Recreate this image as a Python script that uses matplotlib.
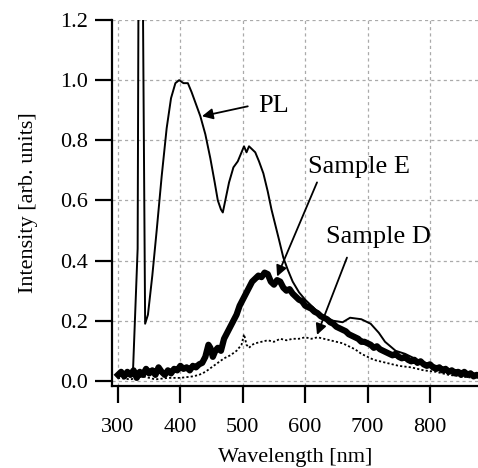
import numpy as np
import matplotlib
matplotlib.use("Agg")
from matplotlib import pyplot as plt

plt.rcParams['font.family'] = ['Liberation Serif', 'DejaVu Serif']

# PL spectrum (thin line)
pl_wl = [300, 310, 318, 324, 331.5, 333, 339.5, 343.5, 348, 355, 362, 370, 378, 385, 392, 398, 405,
         412, 418, 425, 432, 440, 448, 455, 460, 465, 468, 472, 478, 485, 492, 498, 502,
         506, 510, 515, 520, 526, 533, 540, 546, 552, 558, 565, 572, 580, 590, 600, 615,
         630, 645, 660, 672, 690, 705, 718, 728, 745, 760, 780, 800, 830, 860, 878]
pl_int = [0.02, 0.02, 0.02, 0.03, 0.44, 1.4, 1.4, 0.19, 0.22, 0.35, 0.50, 0.68, 0.84, 0.94, 0.99, 1.0, 0.99,
          0.99, 0.96, 0.92, 0.88, 0.82, 0.74, 0.66, 0.60, 0.57, 0.56, 0.60, 0.66, 0.71, 0.73, 0.76, 0.78,
          0.76, 0.78, 0.77, 0.76, 0.73, 0.69, 0.63, 0.57, 0.52, 0.47, 0.41, 0.37, 0.33, 0.295, 0.27, 0.24,
          0.215, 0.20, 0.195, 0.21, 0.205, 0.19, 0.16, 0.13, 0.10, 0.09, 0.07, 0.055, 0.04, 0.03, 0.02]

# Sample E (thick line)
e_wl = [300, 305, 310, 315, 320, 325, 330, 335, 340, 345, 350, 355, 360, 365, 370, 375,
        380, 385, 390, 395, 400, 405, 410, 415, 420, 425, 430, 435, 440, 445, 448, 452,
        456, 460, 465, 470, 475, 480, 485, 490, 495, 500, 505, 510, 515, 520, 525, 530,
        535, 540, 545, 550, 555, 560, 565, 570, 575, 580, 585, 590, 595, 600, 605, 610,
        615, 620, 625, 630, 635, 640, 645, 650, 655, 660, 665, 670, 675, 680, 685, 690,
        695, 700, 705, 710, 715, 720, 725, 730, 735, 740, 745, 750, 755, 760, 765, 770,
        775, 780, 785, 790, 795, 800, 805, 810, 815, 820, 825, 830, 835, 840, 845, 850,
        855, 860, 865, 870, 875, 880]
e_int = [0.02, 0.03, 0.015, 0.03, 0.02, 0.035, 0.01, 0.03, 0.02, 0.04, 0.025, 0.035, 0.02, 0.045, 0.03, 0.02,
         0.035, 0.025, 0.04, 0.035, 0.05, 0.04, 0.045, 0.035, 0.05, 0.045, 0.055, 0.06, 0.08, 0.12, 0.11, 0.08,
         0.10, 0.11, 0.10, 0.14, 0.16, 0.18, 0.20, 0.22, 0.25, 0.27, 0.29, 0.31, 0.33, 0.34, 0.35, 0.345,
         0.36, 0.355, 0.33, 0.32, 0.335, 0.33, 0.31, 0.30, 0.305, 0.29, 0.28, 0.27, 0.265, 0.25, 0.245, 0.24,
         0.23, 0.225, 0.215, 0.21, 0.205, 0.195, 0.19, 0.18, 0.175, 0.17, 0.165, 0.155, 0.15, 0.145, 0.14, 0.13,
         0.13, 0.125, 0.12, 0.11, 0.115, 0.105, 0.10, 0.095, 0.09, 0.085, 0.09, 0.08, 0.075, 0.08, 0.07, 0.065,
         0.07, 0.06, 0.065, 0.055, 0.05, 0.055, 0.045, 0.04, 0.045, 0.035, 0.04, 0.03, 0.035, 0.025, 0.03, 0.02,
         0.03, 0.02, 0.025, 0.015, 0.02, 0.015]

# Sample D (dotted line)
d_wl = [300, 320, 340, 360, 380, 400, 420, 430, 440, 450, 460, 470, 480, 490, 498, 502,
        506, 510, 515, 520, 530, 540, 550, 560, 570, 580, 590, 600, 610, 620, 630, 640,
        650, 660, 670, 680, 690, 700, 710, 720, 730, 750, 770, 790, 810, 830, 850, 870]
d_int = [0.01, 0.005, 0.015, 0.005, 0.01, 0.01, 0.015, 0.02, 0.03, 0.045, 0.06, 0.075, 0.085, 0.10, 0.12, 0.155,
         0.12, 0.11, 0.12, 0.125, 0.13, 0.135, 0.13, 0.14, 0.135, 0.14, 0.14, 0.145, 0.14, 0.145, 0.14, 0.135,
         0.13, 0.125, 0.115, 0.105, 0.09, 0.08, 0.07, 0.065, 0.06, 0.05, 0.045, 0.035, 0.03, 0.02, 0.015, 0.01]

xticks = [300, 400, 500, 600, 700, 800]
yticks = [0.0, 0.2, 0.4, 0.6, 0.8, 1.0, 1.2]

fig = plt.figure(figsize=(4.78, 4.68), dpi=100)
ax = fig.add_axes([112/478, 82/468, 366/478, 366/468])

ax.plot(d_wl, d_int, color='black', lw=1.3, ls=(0, (1.2, 1.2)))
ax.plot(e_wl, e_int, color='black', lw=4.5, solid_joinstyle='round')
ax.plot(pl_wl, pl_int, color='black', lw=1.4)

ax.set_xlim(290.4, 877)
ax.set_ylim(-0.017, 1.2)
ax.set_xticks(xticks)
ax.set_yticks(yticks)
ax.set_yticklabels(['%.1f' % v for v in yticks])
ax.grid(True, color='#aaaaaa', ls=(0, (2.5, 2.5)), lw=0.9)
ax.set_axisbelow(True)

for s in ['top', 'right']:
    ax.spines[s].set_visible(False)
for s in ['left', 'bottom']:
    ax.spines[s].set_linewidth(1.6)
ax.tick_params(direction='out', length=12, width=1.6, labelsize=16)
ax.tick_params(axis='y', pad=5)
ax.tick_params(axis='x', pad=11)

ax.set_xlabel('Wavelength [nm]', fontsize=16, labelpad=8)
ax.set_ylabel('Intensity [arb. units]', fontsize=16, labelpad=16)

arrow = dict(arrowstyle='-|>', color='black', lw=1.3, mutation_scale=16, shrinkA=0, shrinkB=0)
ax.annotate('', xy=(434.6, 0.88), xytext=(508, 0.913), arrowprops=arrow)
ax.text(524, 0.915, 'PL', fontsize=19, va='center', ha='left')
ax.annotate('', xy=(555, 0.347), xytext=(619, 0.66), arrowprops=arrow)
ax.text(604, 0.71, 'Sample E', fontsize=19, va='center', ha='left')
ax.annotate('', xy=(619, 0.153), xytext=(667, 0.41), arrowprops=arrow)
ax.text(633, 0.477, 'Sample D', fontsize=19, va='center', ha='left')

fig.savefig('out.png', dpi=100)
